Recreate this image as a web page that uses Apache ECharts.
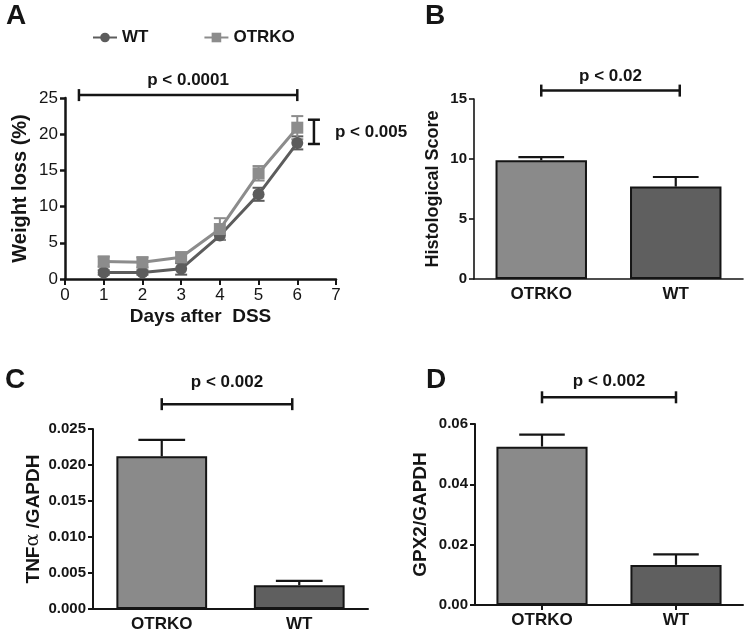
<!DOCTYPE html>
<html><head><meta charset="utf-8">
<script src="https://cdn.jsdelivr.net/npm/echarts@6/dist/echarts.min.js"></script>
<style>html,body{margin:0;padding:0;background:#fff}#c{width:746px;height:633px}</style>
</head><body><div id="c"></div>
<script>
// ---- data ----
const days = [1, 2, 3, 4, 5, 6];
const wtMean = [0.9, 0.9, 1.4, 6.0, 11.7, 18.8];
const wtErr = [0.3, 0.3, 0.8, 0.6, 0.9, 0.9];
const otrkoMean = [2.4, 2.3, 3.0, 6.9, 14.6, 20.9];
const otrkoErr = [0.7, 0.7, 0.7, 1.5, 1.0, 1.6];
const groups = ['OTRKO', 'WT'];
const histMean = [9.9, 7.7];
const histErr = [0.25, 0.8];
const tnfMean = [0.0212, 0.0033];
const tnfErr = [0.0023, 0.0006];
const gpxMean = [0.0525, 0.0133];
const gpxErr = [0.0040, 0.0035];
const pLabels = ['p < 0.0001', 'p < 0.005', 'p < 0.02', 'p < 0.002', 'p < 0.002'];

// ---- style ----
const FONT = '"Liberation Sans", Arial, sans-serif';
const WT_COLOR = '#5c5c5c';
const OT_COLOR = '#8c8c8c';
const BAR_COLORS = ['#8a8a8a', '#5f5f5f'];
const INK = '#151515';

const chart = echarts.init(document.getElementById('c'), null, {renderer: 'canvas'});

function lineErr(color) {
  return function (params, api) {
    const x = api.value(0), m = api.value(1), e = api.value(2);
    const lo = api.coord([x, m - e]), hi = api.coord([x, m + e]);
    const c = 6;
    const st = {stroke: color, lineWidth: 2};
    return {type: 'group', children: [
      {type: 'line', shape: {x1: lo[0], y1: lo[1], x2: hi[0], y2: hi[1]}, style: st},
      {type: 'line', shape: {x1: lo[0] - c, y1: lo[1], x2: lo[0] + c, y2: lo[1]}, style: st},
      {type: 'line', shape: {x1: hi[0] - c, y1: hi[1], x2: hi[0] + c, y2: hi[1]}, style: st}
    ]};
  };
}
function barErr(params, api) {
  const x = api.value(0), m = api.value(1), e = api.value(2);
  const lo = api.coord([x, m]), hi = api.coord([x, m + e]);
  const c = api.size([1, 0])[0] * 0.17;
  const st = {stroke: INK, lineWidth: 2.2};
  return {type: 'group', children: [
    {type: 'line', shape: {x1: lo[0], y1: lo[1], x2: hi[0], y2: hi[1]}, style: st},
    {type: 'line', shape: {x1: hi[0] - c, y1: hi[1], x2: hi[0] + c, y2: hi[1]}, style: st}
  ]};
}
function hBracket(labelIdx, textGap, rightNudge) {
  return function (params, api) {
    const x1 = api.value(0), x2 = api.value(1), y = api.value(2);
    const p1 = api.coord([x1, y]), p2 = api.coord([x2, y]);
    p2[0] += rightNudge || 0;
    const t = 6;
    const st = {stroke: INK, lineWidth: 2.5};
    return {type: 'group', children: [
      {type: 'line', shape: {x1: p1[0], y1: p1[1], x2: p2[0], y2: p2[1]}, style: st},
      {type: 'line', shape: {x1: p1[0], y1: p1[1] - t, x2: p1[0], y2: p1[1] + t}, style: st},
      {type: 'line', shape: {x1: p2[0], y1: p2[1] - t, x2: p2[0], y2: p2[1] + t}, style: st},
      {type: 'text', x: (p1[0] + p2[0]) / 2, y: p1[1] - textGap,
        style: {text: pLabels[labelIdx], align: 'center', verticalAlign: 'middle',
          font: 'bold 17px ' + FONT, fill: INK}}
    ]};
  };
}
function vBracket(labelIdx) {
  return function (params, api) {
    const x = api.value(0), y1 = api.value(1), y2 = api.value(2);
    const p1 = api.coord([x, y1]), p2 = api.coord([x, y2]);
    const t = 6;
    const st = {stroke: INK, lineWidth: 2.5};
    return {type: 'group', children: [
      {type: 'line', shape: {x1: p1[0], y1: p1[1], x2: p2[0], y2: p2[1]}, style: st},
      {type: 'line', shape: {x1: p1[0] - t, y1: p1[1], x2: p1[0] + t, y2: p1[1]}, style: st},
      {type: 'line', shape: {x1: p2[0] - t, y1: p2[1], x2: p2[0] + t, y2: p2[1]}, style: st},
      {type: 'text', x: p1[0] + 21, y: (p1[1] + p2[1]) / 2,
        style: {text: pLabels[labelIdx], align: 'left', verticalAlign: 'middle',
          font: 'bold 17px ' + FONT, fill: INK}}
    ]};
  };
}

const grids = [
  {left: 65, top: 98, width: 271, height: 181},
  {left: 474, top: 99, width: 269, height: 180},
  {left: 93, top: 429, width: 275, height: 181},
  {left: 475, top: 424, width: 268, height: 181}
];

function valY(gi, max, interval, name, gap, lw, fmt, bold, fs) {
  return {
    gridIndex: gi, type: 'value', min: 0, max: max, interval: interval,
    name: name, nameLocation: 'middle', nameGap: gap,
    nameTextStyle: {fontFamily: FONT, fontWeight: 'bold', fontSize: 18, color: INK},
    axisLine: {show: true, lineStyle: {color: INK, width: lw}},
    axisTick: {show: true, length: 5, lineStyle: {color: INK, width: lw}},
    splitLine: {show: false},
    axisLabel: {fontFamily: FONT, fontWeight: bold ? 'bold' : 'normal', fontSize: fs, color: INK, margin: 7,
      formatter: fmt}
  };
}
function catX(gi, lw, tick) {
  return {
    gridIndex: gi, type: 'category', data: groups,
    axisLine: {show: true, lineStyle: {color: INK, width: lw}},
    axisTick: {show: tick, alignWithLabel: true, length: 5, lineStyle: {color: INK, width: lw}},
    axisLabel: {fontFamily: FONT, fontWeight: 'bold', fontSize: 17, color: INK, margin: 7}
  };
}

const yC = valY(2, 0.025, 0.005, '{a|TNF}{b|\u03b1}{a| /GAPDH}', 50, 2, v => v.toFixed(3), true, 15);
yC.nameTextStyle = {
  color: INK,
  rich: {
    a: {fontFamily: FONT, fontWeight: 'bold', fontSize: 19, color: INK},
    b: {fontFamily: '"DejaVu Serif", serif', fontWeight: 'normal', fontSize: 19, color: INK}
  }
};

const option = {
  animation: false,
  backgroundColor: '#fff',
  grid: grids,
  legend: {
    data: ['WT', 'OTRKO'], left: 87, top: 24, itemWidth: 24, itemHeight: 12, itemGap: 55,
    textStyle: {fontFamily: FONT, fontWeight: 'bold', fontSize: 17, color: INK}
  },
  xAxis: [
    {
      gridIndex: 0, type: 'value', min: 0, max: 7, interval: 1,
      name: 'Days after  DSS', nameLocation: 'middle', nameGap: 28,
      nameTextStyle: {fontFamily: FONT, fontWeight: 'bold', fontSize: 19, color: INK},
      axisLine: {show: true, lineStyle: {color: INK, width: 2.5}},
      axisTick: {show: true, length: 6, lineStyle: {color: INK, width: 2}},
      splitLine: {show: false},
      axisLabel: {fontFamily: FONT, fontSize: 17, color: INK, margin: 8}
    },
    catX(1, 1.6, false),
    catX(2, 2, false),
    catX(3, 2, true)
  ],
  yAxis: [
    Object.assign(valY(0, 25, 5, 'Weight loss (%)', 35, 2.5, v => v, false, 17),
      {nameTextStyle: {fontFamily: FONT, fontWeight: 'bold', fontSize: 20, color: INK}}),
    valY(1, 15, 5, 'Histological Score', 32, 1.6, v => v, true, 15),
    yC,
    Object.assign(valY(3, 0.06, 0.02, 'GPX2/GAPDH', 45, 2, v => v.toFixed(2), true, 15),
      {nameTextStyle: {fontFamily: FONT, fontWeight: 'bold', fontSize: 19, color: INK}})
  ],
  graphic: [
    {type: 'text', left: 6, top: 2, style: {text: 'A', font: 'bold 28px ' + FONT, fill: INK}},
    {type: 'text', left: 425, top: 2, style: {text: 'B', font: 'bold 28px ' + FONT, fill: INK}},
    {type: 'text', left: 5, top: 366, style: {text: 'C', font: 'bold 28px ' + FONT, fill: INK}},
    {type: 'text', left: 426, top: 366, style: {text: 'D', font: 'bold 28px ' + FONT, fill: INK}}
  ],
  series: [
    // Panel A
    {type: 'custom', name: 'wtErr', xAxisIndex: 0, yAxisIndex: 0, z: 1,
      renderItem: lineErr(WT_COLOR), data: days.map((d, i) => [d, wtMean[i], wtErr[i]])},
    {type: 'custom', name: 'otErr', xAxisIndex: 0, yAxisIndex: 0, z: 1,
      renderItem: lineErr(OT_COLOR), data: days.map((d, i) => [d, otrkoMean[i], otrkoErr[i]])},
    {type: 'line', name: 'WT', xAxisIndex: 0, yAxisIndex: 0, z: 3,
      data: days.map((d, i) => [d, wtMean[i]]), symbol: 'circle', symbolSize: 12,
      lineStyle: {color: WT_COLOR, width: 3}, itemStyle: {color: WT_COLOR}},
    {type: 'line', name: 'OTRKO', xAxisIndex: 0, yAxisIndex: 0, z: 4,
      data: days.map((d, i) => [d, otrkoMean[i]]), symbol: 'rect', symbolSize: 12,
      lineStyle: {color: OT_COLOR, width: 3}, itemStyle: {color: OT_COLOR}},
    {type: 'custom', name: 'brA', xAxisIndex: 0, yAxisIndex: 0, renderItem: hBracket(0, 15, 0),
      data: [[0.36, 6, 25.4]]},
    {type: 'custom', name: 'brA2', xAxisIndex: 0, yAxisIndex: 0, renderItem: vBracket(1),
      data: [[6.43, 18.65, 22.0]]},
    // Panel B
    {type: 'bar', name: 'hist', xAxisIndex: 1, yAxisIndex: 1, barWidth: '68%',
      data: histMean.map((v, i) => ({value: v, itemStyle: {color: BAR_COLORS[i]}})),
      itemStyle: {borderColor: INK, borderWidth: 2}},
    {type: 'custom', name: 'histErr', xAxisIndex: 1, yAxisIndex: 1, renderItem: barErr,
      data: histMean.map((v, i) => [i, v, histErr[i]])},
    {type: 'custom', name: 'brB', xAxisIndex: 1, yAxisIndex: 1, renderItem: hBracket(2, 14, 4),
      data: [[0, 1, 15.7]]},
    // Panel C
    {type: 'bar', name: 'tnf', xAxisIndex: 2, yAxisIndex: 2, barWidth: '66%',
      data: tnfMean.map((v, i) => ({value: v, itemStyle: {color: BAR_COLORS[i]}})),
      itemStyle: {borderColor: INK, borderWidth: 2}},
    {type: 'custom', name: 'tnfErr', xAxisIndex: 2, yAxisIndex: 2, renderItem: barErr,
      data: tnfMean.map((v, i) => [i, v, tnfErr[i]])},
    {type: 'custom', name: 'brC', xAxisIndex: 2, yAxisIndex: 2, renderItem: hBracket(3, 22, -7),
      data: [[0, 1, 0.02845]]},
    // Panel D
    {type: 'bar', name: 'gpx', xAxisIndex: 3, yAxisIndex: 3, barWidth: '68%',
      data: gpxMean.map((v, i) => ({value: v, itemStyle: {color: BAR_COLORS[i]}})),
      itemStyle: {borderColor: INK, borderWidth: 2}},
    {type: 'custom', name: 'gpxErr', xAxisIndex: 3, yAxisIndex: 3, renderItem: barErr,
      data: gpxMean.map((v, i) => [i, v, gpxErr[i]])},
    {type: 'custom', name: 'brD', xAxisIndex: 3, yAxisIndex: 3, renderItem: hBracket(4, 16, 0),
      data: [[0, 1, 0.06885]]}
  ]
};
chart.setOption(option);
</script>
</body></html>
